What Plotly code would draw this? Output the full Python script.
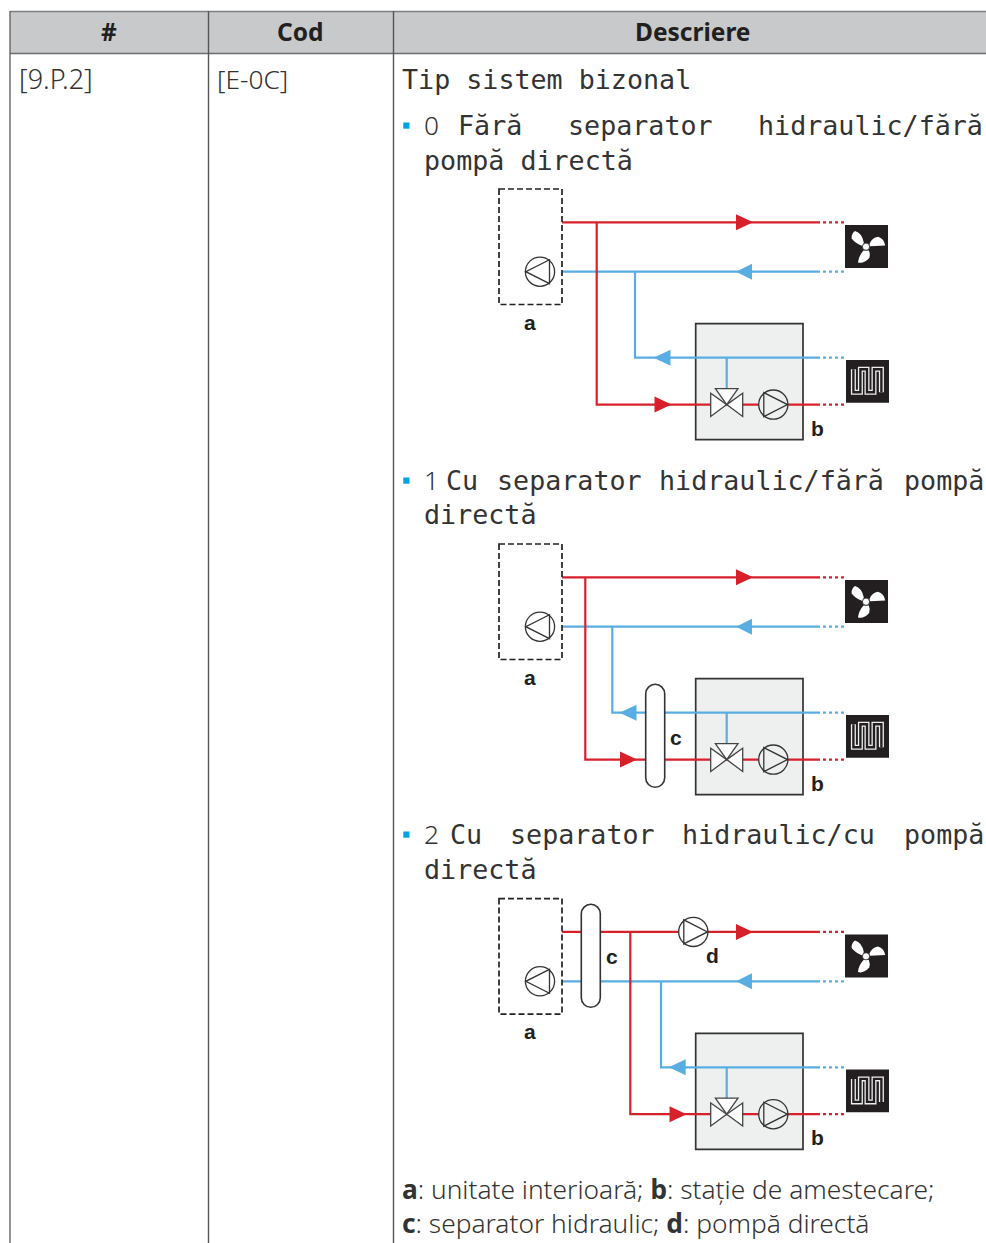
import plotly.graph_objects as go

# ---- table content
HEADERS = ["#", "Cod", "Descriere"]
CELL_NUMBER = "[9.P.2]"
CELL_CODE = "[E-0C]"
TITLE = "Tip sistem bizonal"
OPTION_0 = [("Fără", 457.5), ("separator", 567.5), ("hidraulic/fără", 758)]
OPTION_1 = [("Cu", 445.7), ("separator", 496.7), ("hidraulic/fără", 659), ("pompă", 903.7)]
OPTION_2 = [("Cu", 449.7), ("separator", 509.7), ("hidraulic/cu", 682), ("pompă", 903.7)]
OPTION_KEYS = ["0", "1", "2"]
SECOND_LINES = ["pompă directă", "directă", "directă"]
LEGEND_1 = "<b>a</b>: unitate interioară; <b>b</b>: stație de amestecare;"
LEGEND_2 = "<b>c</b>: separator hidraulic; <b>d</b>: pompă directă"

W, H = 986, 1243
RED, BLUE, INK, GREY_FILL = "#d8202b", "#58aee2", "#231f20", "#eef0f0"
TEXT = "#333333"
SANS, MONO = "Noto Sans", "DejaVu Sans Mono"

shapes, annos, traces = [], [], []


def rect(x0, y0, x1, y1, fill="rgba(0,0,0,0)", line=None, width=1, dash=None, layer="above"):
    shapes.append(dict(type="rect", xref="x", yref="y", x0=x0, y0=y0, x1=x1, y1=y1, fillcolor=fill,
                       layer=layer, line=dict(color=line or "rgba(0,0,0,0)", width=width if line else 0, dash=dash)))


def seg(x0, y0, x1, y1, color, width=1.4, dash=None, layer="above"):
    shapes.append(dict(type="line", xref="x", yref="y", x0=x0, y0=y0, x1=x1, y1=y1, layer=layer,
                       line=dict(color=color, width=width, dash=dash)))


def path(d, fill="rgba(0,0,0,0)", line=None, width=1):
    shapes.append(dict(type="path", xref="x", yref="y", path=d, fillcolor=fill, layer="above",
                       line=dict(color=line or "rgba(0,0,0,0)", width=width if line else 0)))


def poly(pts, fill, line=None, width=1):
    path("M " + " L ".join(f"{x},{y}" for x, y in pts) + " Z", fill, line, width)


def text(x, y, s, size=24, font=SANS, anchor="left", color=TEXT, weight=None):
    f = dict(family=font, size=size, color=color)
    if weight:
        f["weight"] = weight
    annos.append(dict(xref="x", yref="y", x=x, y=y, text=s, showarrow=False, xanchor=anchor, yanchor="middle",
                      align="left", font=f, borderpad=0, borderwidth=0))


def pipe(xs, ys, color, dash=None, width=2.2):
    traces.append(go.Scatter(x=xs, y=ys, mode="lines", hoverinfo="skip", showlegend=False,
                             line=dict(color=color, width=width, dash=dash)))


def pump(cx, cy, direction):
    shapes.append(dict(type="circle", xref="x", yref="y", x0=cx - 14.6, x1=cx + 14.6, y0=cy - 14.6, y1=cy + 14.6,
                       fillcolor=GREY_FILL if direction > 0 and cx > 750 else "white", layer="above",
                       line=dict(color="#333333", width=1.3)))
    b = cx - 9.5 * direction
    poly([(b, cy - 12), (b, cy + 12), (cx + 14.2 * direction, cy)], "rgba(0,0,0,0)", "#333333", 1.3)


def arrow(tip, base, y, color):
    poly([(tip, y), (base, y - 8), (base, y + 8)], color)


def pill(x0, x1, y0, y1):
    r = (x1 - x0) / 2
    k = r * 0.55
    c = x0 + r
    path(f"M {x0},{y0 + r} C {x0},{y0 + r - k} {c - k},{y0} {c},{y0} C {c + k},{y0} {x1},{y0 + r - k} {x1},{y0 + r} "
         f"L {x1},{y1 - r} C {x1},{y1 - r + k} {c + k},{y1} {c},{y1} C {c - k},{y1} {x0},{y1 - r + k} {x0},{y1 - r} Z",
         "white", "#333333", 1.6)


def fan_icon(dy):
    x0, y0 = 845, 225 + dy
    rect(x0, y0, 888, y0 + 43, INK)
    cx, cy = 866, 246.7 + dy
    Y = lambda v: v + dy
    path(f"M 855,{Y(231)} Q 851,{Y(234)} 851.7,{Y(238.5)} Q 855,{Y(243)} 862.5,{Y(246)} L 863.8,{Y(242.5)} "
         f"Q 862,{Y(233)} 855,{Y(231)} Z", "white")
    path(f"M 869.5,{Y(244)} Q 872,{Y(237.5)} 878,{Y(236.8)} Q 884,{Y(238.5)} 885.2,{Y(245.5)} L 870,{Y(246.2)} Z", "white")
    path(f"M 863.5,{Y(250.5)} Q 858.5,{Y(256)} 858,{Y(262.5)} Q 864,{Y(264)} 869.2,{Y(258)} Q 870.5,{Y(254)} 868.8,{Y(250.5)} Z", "white")
    shapes.append(dict(type="circle", xref="x", yref="y", x0=cx - 3.6, x1=cx + 3.6, y0=cy - 3.6, y1=cy + 3.6,
                       fillcolor="white", layer="above", line=dict(color=INK, width=0.8)))


def floor_icon(dy):
    rect(846, 360 + dy, 889, 402.7 + dy, INK)
    t, b = 369.3 + dy, 392.3 + dy
    legs = [853.4, 860.4, 867, 874, 881.4]
    route = [(legs[0], t), (legs[0], b), (legs[1], b), (legs[1], t), (legs[2], t), (legs[2], b), (legs[3], b),
             (legs[3], t), (legs[4], t), (legs[4], b)]
    d = "M " + " L ".join(f"{x},{y}" for x, y in route)
    shapes.append(dict(type="path", xref="x", yref="y", path=d, layer="above", line=dict(color="#efefef", width=5)))
    shapes.append(dict(type="path", xref="x", yref="y", path=d, layer="above", line=dict(color=INK, width=2.4)))


def diagram(dy, red_x, blue_x, blue_tip, red_tip, sep_c=None, sep_label=None, direct=False):
    top = 222.3 + dy
    ret = 271.7 + dy
    mid = 357.7 + dy
    low = 404.6 + dy
    # mixing box under the pipes
    rect(695.7, 323.7 + dy, 803, 439.7 + dy, GREY_FILL, "#333333", 1.7, layer="below")
    # indoor unit
    rect(499, 189 + dy, 562, 304.5 + dy, "rgba(0,0,0,0)", "#222222", 1.7, "6px,3px")
    # pipes
    pipe([562, 817], [top, top], RED)
    pipe([562, 817], [ret, ret], BLUE)
    pipe([red_x, red_x, 817], [top, low, low], RED)
    pipe([blue_x, blue_x, 817], [ret, mid, mid], BLUE)
    pipe([726.7, 726.7], [mid, 389 + dy], BLUE)
    for y, c in [(top, RED), (ret, BLUE), (mid, BLUE), (low, RED)]:
        pipe([817, 844], [y, y], c, dash="3px,3px")
    # arrows
    arrow(753, 736, top, RED)
    arrow(736, 752, ret, BLUE)
    arrow(blue_tip, blue_tip + 17, mid, BLUE)
    arrow(red_tip + 17, red_tip, low, RED)
    # valve and pumps
    cx, cy = 726.7, low
    poly([(cx, cy), (cx - 11.3, cy - 16), (cx + 11.3, cy - 16)], "white", "#444444", 1.3)
    poly([(cx, cy), (cx - 16, cy - 11.3), (cx - 16, cy + 11.8)], "white", "#444444", 1.3)
    poly([(cx, cy), (cx + 16, cy - 11.3), (cx + 16, cy + 11.8)], "white", "#444444", 1.3)
    pump(773.3, low, 1)
    pump(540, ret, -1)
    if sep_c:
        pill(*sep_c)
        text(*sep_label, "c", 21, "Liberation Sans", "center", INK, 700)
    if direct:
        pump(693.3, top, 1)
        text(712, 955, "d", 21, "Liberation Sans", "center", INK, 700)
    text(530, 322 + dy, "a", 21, "Liberation Sans", "center", INK, 700)
    text(817.7, 428 + dy, "b", 21, "Liberation Sans", "center", INK, 700)
    fan_icon(dy)
    floor_icon(dy)


# ---- table frame
rect(10, 11, W + 5, 53, "#c7c9cb", layer="below")
LINE = "#555555"
seg(10, 11.5, W, 11.5, "#7d7f81", 1.6, layer="below")
seg(10, 53.5, W, 53.5, "#6d6e70", 1.6, layer="below")
for vx in (10, 208.5, 393.5):
    seg(vx, 11, vx, H + 2, LINE if vx != 10 else "#666666", 1.4, layer="below")

text(108.5, 31.5, HEADERS[0], 24.5, SANS, "center", INK, 700)
text(300.5, 31.5, HEADERS[1], 24.5, SANS, "center", INK, 700)
text(693, 31.5, HEADERS[2], 24.5, SANS, "center", INK, 700)
SS = 26.3
text(18.5, 78.5, CELL_NUMBER, 27, SANS, weight=300)
text(217, 78.5, CELL_CODE, SS, SANS, weight=300)

MS = 26.7
text(402, 79, TITLE, MS, MONO)
for key, words, y, second, y2 in [
    (OPTION_KEYS[0], OPTION_0, 125, SECOND_LINES[0], 160),
    (OPTION_KEYS[1], OPTION_1, 480, SECOND_LINES[1], 514),
    (OPTION_KEYS[2], OPTION_2, 834, SECOND_LINES[2], 869),
]:
    rect(403.3, y - 2.5, 409.5, y + 3.7, "#00a3e0")
    text(424, y, key, SS, SANS, weight=300)
    for w, x in words:
        text(x, y, w, MS, MONO)
    text(424, y2, second, MS, MONO)

diagram(0, 596.7, 635, 653.5, 654.5)
diagram(355, 585.3, 612.3, 619.5, 620, (645.7, 664.7, 684.3, 787.3), (676, 737))
diagram(709.6, 630.3, 661, 668.7, 669.5, (581.3, 600.3, 904.3, 1007.3), (612, 956), direct=True)

text(401.5, 1188.5, LEGEND_1, SS, SANS, weight=300)
text(401.5, 1222.5, LEGEND_2, SS, SANS, weight=300)

fig = go.Figure(traces)
fig.update_layout(
    width=W, height=H, autosize=False, margin=dict(l=0, r=0, t=0, b=0), paper_bgcolor="white", plot_bgcolor="white",
    xaxis=dict(range=[0, W], visible=False, fixedrange=True),
    yaxis=dict(range=[H, 0], visible=False, fixedrange=True),
    shapes=shapes, annotations=annos, showlegend=False, hovermode=False,
)
fig.write_html("out.html", config={"displayModeBar": False},
               post_script="document.body.style.margin='0';document.body.style.overflow='hidden';")
